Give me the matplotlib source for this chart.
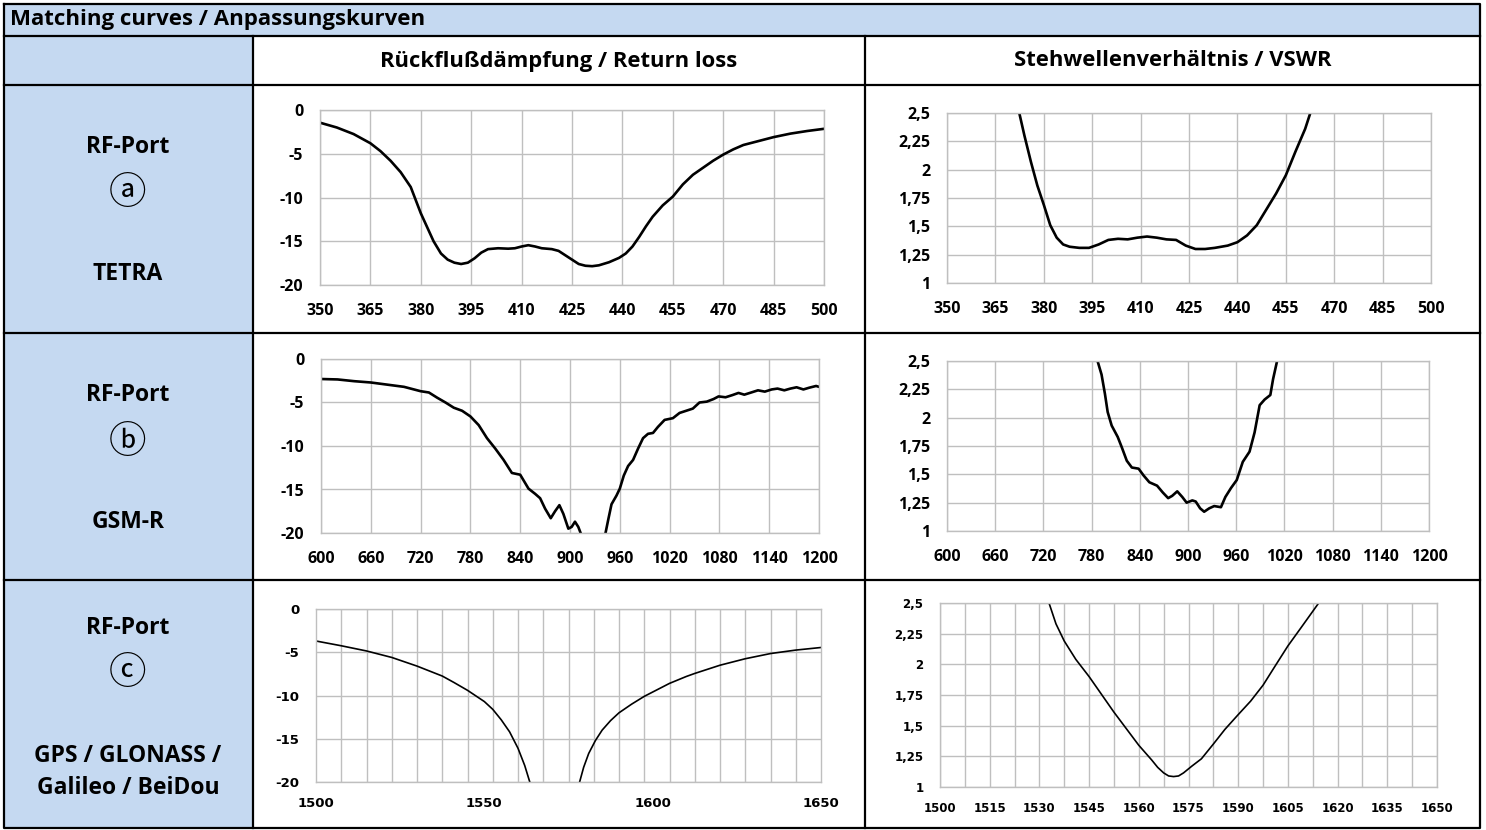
import matplotlib.pyplot as plt
from matplotlib.patches import Rectangle
from matplotlib.ticker import MultipleLocator, FixedLocator

# --- data ---
rl_a_freq = [350, 355, 360, 365, 368, 371, 374, 377, 380, 383.8, 386, 388, 390, 392, 394, 396,
             398, 400, 403, 406, 408, 410, 412, 414, 416, 419, 421, 423, 425, 427, 429, 431,
             433, 436, 439, 441, 443, 445, 447, 449, 452, 455, 458, 461, 464, 467, 470, 473,
             476, 480, 485, 490, 495, 500]
rl_a_db = [-1.45, -2.0, -2.75, -3.8, -4.7, -5.8, -7.1, -8.8, -11.8, -15.0, -16.4, -17.1, -17.45,
           -17.6, -17.45, -16.95, -16.3, -15.9, -15.8, -15.85, -15.8, -15.6, -15.45, -15.6,
           -15.8, -15.9, -16.1, -16.6, -17.1, -17.6, -17.8, -17.85, -17.75, -17.4, -16.9,
           -16.4, -15.6, -14.5, -13.3, -12.2, -10.9, -9.9, -8.5, -7.4, -6.6, -5.8, -5.1, -4.5,
           -4.0, -3.6, -3.1, -2.7, -2.4, -2.15]

vswr_a_freq = [372.4, 374, 376, 378, 380, 382, 384, 386, 388, 391, 394, 397, 400, 403, 406, 409,
               412, 415, 418, 421, 424, 427, 430, 433, 437, 440, 443, 446, 449, 452, 455, 458,
               461, 462.6]
vswr_a = [2.5, 2.30, 2.07, 1.86, 1.69, 1.51, 1.40, 1.34, 1.32, 1.31, 1.31, 1.34, 1.38, 1.39,
          1.385, 1.40, 1.41, 1.40, 1.385, 1.38, 1.33, 1.30, 1.30, 1.31, 1.33, 1.36, 1.42, 1.51,
          1.65, 1.79, 1.95, 2.16, 2.36, 2.5]

rl_b_freq = [600, 620, 640, 660, 680, 700, 712, 720, 730, 740, 750, 760, 770, 780, 790, 800, 810,
             820, 830, 840, 850, 858, 864, 870, 876.8, 882, 887.2, 892, 898, 902, 906, 910,
             912.8, 916, 920, 926, 932, 938, 942.8, 946, 950, 956, 960, 964.8, 970, 976, 982,
             988, 994, 1000, 1006, 1014, 1024, 1032, 1040, 1048, 1056, 1064.8, 1073, 1079,
             1087.4, 1095.6, 1103, 1110, 1118.3, 1126.5, 1134.7, 1143, 1150, 1158.2, 1165.6,
             1173, 1181.2, 1188.2, 1196.5, 1200]
rl_b_db = [-2.3, -2.35, -2.55, -2.7, -2.95, -3.2, -3.5, -3.7, -3.85, -4.45, -5.0, -5.6, -5.95,
           -6.6, -7.6, -9.1, -10.3, -11.6, -13.1, -13.3, -14.9, -15.5, -16.0, -17.2, -18.3,
           -17.5, -16.8, -17.8, -19.5, -19.3, -18.7, -19.3, -20.0, -21.0, -22.6, -21.6, -21.0,
           -21.0, -20.0, -18.5, -16.7, -15.7, -14.9, -13.4, -12.3, -11.6, -10.3, -9.1, -8.6,
           -8.5, -7.8, -7.0, -6.8, -6.2, -5.95, -5.7, -5.0, -4.9, -4.6, -4.3, -4.4, -4.15,
           -3.9, -4.1, -3.85, -3.6, -3.75, -3.5, -3.4, -3.6, -3.4, -3.25, -3.5, -3.3, -3.1,
           -3.2]

vswr_b_freq = [787.4, 792.4, 796.6, 800, 805, 812.5, 817.5, 823.8, 830.1, 838.5, 844.7, 851.9,
               861.5, 868.6, 875.3, 880.3, 886.6, 892.9, 898.3, 905.4, 909.6, 915.1, 920.1,
               926.4, 932.6, 941, 946.5, 953.6, 960.7, 968.2, 976.6, 982.9, 989.2, 995.4,
               1002.5, 1005.9, 1010.9]
vswr_b = [2.5, 2.38, 2.21, 2.05, 1.93, 1.83, 1.74, 1.62, 1.56, 1.55, 1.49, 1.43, 1.40, 1.34,
          1.29, 1.31, 1.35, 1.30, 1.25, 1.27, 1.26, 1.20, 1.17, 1.20, 1.22, 1.21, 1.30, 1.38,
          1.45, 1.61, 1.70, 1.87, 2.11, 2.16, 2.20, 2.34, 2.5]

rl_c_freq = [1500, 1507.5, 1515, 1522.5, 1530, 1537.5, 1541, 1545, 1550, 1552.5, 1555, 1557.5,
             1560, 1562, 1563.5, 1566, 1570, 1574, 1578.3, 1579.5, 1581, 1583, 1585, 1587.5,
             1590, 1593.75, 1597.5, 1601, 1605, 1610, 1612.5, 1620, 1627.5, 1635, 1642.5, 1650]
rl_c_db = [-3.7, -4.25, -4.85, -5.6, -6.6, -7.75, -8.5, -9.4, -10.7, -11.6, -12.8, -14.2,
           -16.1, -18.1, -20.0, -23.0, -27.5, -24.0, -20.0, -18.3, -16.7, -15.2, -14.0, -12.9,
           -12.0, -11.0, -10.1, -9.4, -8.6, -7.8, -7.45, -6.5, -5.75, -5.15, -4.75, -4.45]

vswr_c_freq = [1532.9, 1535, 1537.5, 1541, 1545, 1552.5, 1560, 1563.9, 1565.7, 1567.5, 1569,
               1570.5, 1572, 1573.5, 1576, 1578.9, 1582.5, 1586, 1590, 1593.75, 1597.5, 1601,
               1605, 1609, 1614.3]
vswr_c = [2.5, 2.33, 2.19, 2.04, 1.90, 1.61, 1.34, 1.22, 1.16, 1.115, 1.09, 1.085, 1.09, 1.115,
          1.17, 1.23, 1.35, 1.47, 1.59, 1.70, 1.83, 1.98, 2.15, 2.30, 2.5]

xticks_a = [350, 365, 380, 395, 410, 425, 440, 455, 470, 485, 500]
xticks_b = [600, 660, 720, 780, 840, 900, 960, 1020, 1080, 1140, 1200]
xticks_c_rl = [1500, 1550, 1600, 1650]
xticks_c_vswr = [1500, 1515, 1530, 1545, 1560, 1575, 1590, 1605, 1620, 1635, 1650]
vswr_ticks = [1, 1.25, 1.5, 1.75, 2, 2.25, 2.5]
vswr_labels = ['1', '1,25', '1,5', '1,75', '2', '2,25', '2,5']
rl_ticks = [-20, -15, -10, -5, 0]
rl_labels = ['-20', '-15', '-10', '-5', '0']

title = 'Matching curves / Anpassungskurven'
col_titles = ['Rückflußdämpfung / Return loss', 'Stehwellenverhältnis / VSWR']
port_letters = ['ⓐ', 'ⓑ', 'ⓒ']
port_names = ['TETRA', 'GSM-R', 'GPS / GLONASS /\nGalileo / BeiDou']

W, H = 1486, 830
BLUE = '#C5D9F1'
GRID = '#BFBFBF'
TXT = ['Open Sans', 'DejaVu Sans']

fig = plt.figure(figsize=(W / 100, H / 100), dpi=100)
fig.patch.set_facecolor('white')

# background axes in pixel coordinates for the table
bg = fig.add_axes([0, 0, 1, 1])
bg.set_xlim(0, W)
bg.set_ylim(H, 0)
bg.axis('off')

L, R, T, B = 4, 1480, 4, 828
C1, C2 = 253, 865
Y_TITLE, Y_HEAD, Y_A, Y_B = 36, 85, 333, 580

bg.add_patch(Rectangle((L, T), R - L, Y_TITLE - T, color=BLUE, lw=0))
bg.add_patch(Rectangle((L, Y_TITLE), C1 - L, B - Y_TITLE, color=BLUE, lw=0))

lk = dict(color='black', lw=1.6, solid_capstyle='projecting')
bg.plot([L, R, R, L, L], [T, T, B, B, T], **lk)
for y in (Y_TITLE, Y_HEAD, Y_A, Y_B):
    bg.plot([L, R], [y, y], **lk)
for x in (C1, C2):
    bg.plot([x, x], [Y_TITLE, B], **lk)

bg.text(10, 20, title, fontsize=16, fontweight='bold', family=TXT, va='center', ha='left')
bg.text((C1 + C2) / 2, 61, col_titles[0], fontsize=15.8, fontweight='bold', family=TXT,
        va='center', ha='center')
bg.text((C2 + R) / 2, 61, col_titles[1], fontsize=15.8, fontweight='bold', family=TXT,
        va='center', ha='center')

# left column labels
rows_y = [(147, 194, 274), (395, 443, 522), (628, 674, 772)]
for (y1, y2, y3), letter, name in zip(rows_y, port_letters, port_names):
    bg.text(128, y1, 'RF-Port', fontsize=16.5, fontweight='bold', family=TXT,
            ha='center', va='center')
    bg.text(128, y2, letter, fontsize=27, family=['DejaVu Sans', 'Noto Sans CJK JP'],
            ha='center', va='center')
    bg.text(128, y3, name, fontsize=16.5, fontweight='bold', family=TXT,
            ha='center', va='center', linespacing=1.45)


def px_axes(l, t, r, b):
    return fig.add_axes([l / W, 1 - b / H, (r - l) / W, (b - t) / H])


def style(ax, xlim, ylim, xticks, xminor, yticks, ylabels, font, fs, xpad=13):
    ax.set_xlim(*xlim)
    ax.set_ylim(*ylim)
    ax.xaxis.set_major_locator(FixedLocator(xticks))
    if xminor:
        ax.xaxis.set_minor_locator(MultipleLocator(xminor))
    ax.set_yticks(yticks)
    ax.set_yticklabels(ylabels)
    for s in ax.spines.values():
        s.set_color(GRID)
        s.set_linewidth(1.0)
    ax.tick_params(which='both', length=0, labelsize=fs)
    ax.tick_params(axis='x', pad=xpad)
    ax.tick_params(axis='y', pad=12)
    for lab in ax.get_xticklabels() + ax.get_yticklabels():
        lab.set_family(font)
        lab.set_fontweight('bold')
    ax.grid(True, axis='y', color=GRID, lw=1.0)
    ax.set_axisbelow(True)


line = dict(color='black', solid_joinstyle='round', solid_capstyle='round')

# row a
ax = px_axes(320, 110, 824, 285)
style(ax, (350, 500), (-20, 0), xticks_a, None, rl_ticks, rl_labels, TXT, 11.5)
ax.grid(True, axis='x', which='major', color=GRID, lw=1.0)
ax.plot(rl_a_freq, rl_a_db, lw=1.9, **line)

ax = px_axes(947, 113, 1431, 283)
style(ax, (350, 500), (1, 2.5), xticks_a, None, vswr_ticks, vswr_labels, TXT, 11.5)
ax.grid(True, axis='x', which='major', color=GRID, lw=1.0)
ax.plot(vswr_a_freq, vswr_a, lw=1.9, **line)

# row b
ax = px_axes(321, 359, 819, 533)
style(ax, (600, 1200), (-20, 0), xticks_b, None, rl_ticks, rl_labels, TXT, 11.5)
ax.grid(True, axis='x', which='major', color=GRID, lw=1.0)
ax.plot(rl_b_freq, rl_b_db, lw=1.9, **line)

ax = px_axes(947, 361, 1429, 531)
style(ax, (600, 1200), (1, 2.5), xticks_b, None, vswr_ticks, vswr_labels, TXT, 11.5)
ax.grid(True, axis='x', which='major', color=GRID, lw=1.0)
ax.plot(vswr_b_freq, vswr_b, lw=1.9, **line)

# row c
ax = px_axes(316, 609, 821, 782)
style(ax, (1500, 1650), (-20, 0), xticks_c_rl, 7.5, rl_ticks, rl_labels, ['DejaVu Sans'], 9.5,
      xpad=11)
ax.grid(True, axis='x', which='minor', color=GRID, lw=1.0)
ax.plot(rl_c_freq, rl_c_db, lw=1.2, **line)

ax = px_axes(940, 603, 1437, 787)
style(ax, (1500, 1650), (1, 2.5), xticks_c_vswr, 7.5, vswr_ticks, vswr_labels,
      ['DejaVu Sans'], 8.5, xpad=11)
ax.grid(True, axis='x', which='both', color=GRID, lw=1.0)
ax.plot(vswr_c_freq, vswr_c, lw=1.2, **line)

fig.savefig('out.png', dpi=100, facecolor='white')
